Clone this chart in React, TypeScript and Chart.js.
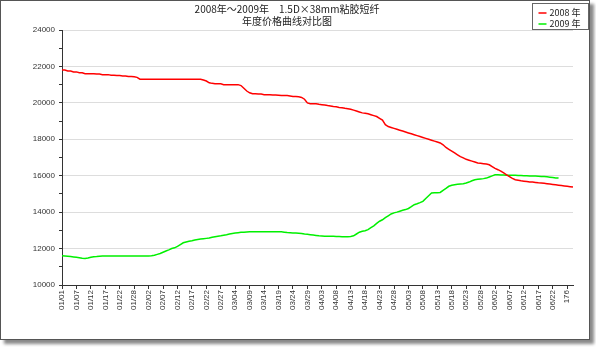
import React, { useEffect, useRef } from "react";
import { Chart, registerables } from "chart.js";

Chart.register(...registerables);

const TITLE_LINES = ["2008年～2009年　1.5D×38mm粘胶短纤", "年度价格曲线对比图"];
const SERIES_NAMES = ["2008 年", "2009 年"];
const SERIES_COLORS = ["#ff0000", "#00f000"];

const TICK_LABELS = [
  "01/01", "01/07", "01/12", "01/17", "01/22", "01/28", "02/02", "02/07", "02/12",
  "02/17", "02/22", "02/27", "03/04", "03/09", "03/14", "03/19", "03/24", "03/29",
  "04/03", "04/08", "04/13", "04/18", "04/23", "04/28", "05/03", "05/08", "05/13",
  "05/18", "05/23", "05/28", "06/02", "06/07", "06/12", "06/17", "06/22", "176",
];
const POINT_COUNT = 178;
const LABEL_EVERY = 5;

const SERIES_2008 = [
  21800, 21800, 21750, 21750, 21700, 21700, 21650, 21650, 21600, 21600,
  21600, 21600, 21580, 21580, 21550, 21550, 21550, 21520, 21520, 21500,
  21500, 21480, 21480, 21450, 21450, 21430, 21400, 21300, 21300, 21300,
  21300, 21300, 21300, 21300, 21300, 21300, 21300, 21300, 21300, 21300,
  21300, 21300, 21300, 21300, 21300, 21300, 21300, 21300, 21300, 21250,
  21200, 21100, 21070, 21050, 21050, 21050, 21000, 21000, 21000, 21000,
  21000, 21000, 20950, 20800, 20650, 20550, 20500, 20500, 20480, 20480,
  20450, 20450, 20450, 20430, 20430, 20420, 20400, 20400, 20400, 20380,
  20350, 20350, 20330, 20300, 20200, 20000, 19950, 19950, 19950, 19920,
  19900, 19880, 19850, 19830, 19800, 19780, 19750, 19730, 19700, 19680,
  19650, 19600, 19550, 19500, 19450, 19430, 19400, 19350, 19300, 19250,
  19150, 19050, 18800, 18700, 18650, 18600, 18550, 18500, 18450, 18400,
  18350, 18300, 18250, 18200, 18150, 18100, 18050, 18000, 17950, 17900,
  17850, 17800, 17700, 17550, 17450, 17350, 17250, 17150, 17050, 16980,
  16900, 16850, 16800, 16750, 16700, 16680, 16660, 16640, 16600, 16500,
  16400, 16330, 16250, 16150, 16050, 15950, 15850, 15780, 15750, 15720,
  15700, 15680, 15660, 15650, 15630, 15610, 15600, 15580, 15560, 15540,
  15520, 15500, 15480, 15460, 15440, 15420, 15400, 15380,
];

const SERIES_2009 = [
  11600, 11590, 11580, 11560, 11540, 11520, 11500, 11470, 11460, 11480,
  11520, 11550, 11560, 11580, 11590, 11590, 11590, 11590, 11590, 11590,
  11590, 11590, 11590, 11590, 11590, 11590, 11590, 11590, 11590, 11590,
  11590, 11600, 11630, 11680, 11730, 11800, 11870, 11930, 12000, 12040,
  12120, 12220, 12320, 12360, 12400, 12430, 12470, 12500, 12520, 12540,
  12560, 12580, 12620, 12650, 12680, 12700, 12730, 12760, 12800, 12830,
  12850, 12870, 12890, 12900, 12910, 12920, 12920, 12920, 12920, 12920,
  12920, 12920, 12920, 12920, 12920, 12920, 12920, 12900, 12880, 12870,
  12860, 12850, 12840, 12830, 12800, 12780, 12760, 12740, 12720, 12700,
  12690, 12680, 12680, 12680, 12670, 12660, 12660, 12650, 12650, 12650,
  12660, 12700, 12800, 12900, 12950, 12980, 13040, 13150, 13250, 13380,
  13500, 13580, 13700, 13800, 13900, 13960, 14000, 14050, 14100, 14140,
  14200, 14300, 14410, 14460, 14520, 14590, 14750, 14900, 15050, 15060,
  15070, 15080, 15200, 15300, 15420, 15480, 15510, 15530, 15550, 15560,
  15600, 15650, 15720, 15780, 15800, 15820, 15840, 15870, 15930, 15990,
  16050, 16050, 16040, 16040, 16030, 16030, 16020, 16020, 16010, 16010,
  16000, 16000, 15990, 15990, 15980, 15970, 15960, 15960, 15940, 15920,
  15900, 15880, 15870,
];

const Y_MIN = 10000;
const Y_MAX = 24000;
const Y_STEP = 1000;
const Y_LABEL_STEP = 2000;

const CATEGORIES = Array.from({ length: POINT_COUNT }, (_, i) =>
  i % LABEL_EVERY === 0 && i / LABEL_EVERY < TICK_LABELS.length ? TICK_LABELS[i / LABEL_EVERY] : ""
);

const FONT = "'Liberation Sans', Arial, sans-serif";
const CJK = "'Noto Sans CJK SC', 'Liberation Sans', sans-serif";

const legendBoxPlugin = {
  id: "legendBox",
  afterDraw(chart: any) {
    const ctx = chart.ctx as CanvasRenderingContext2D;
    const w = 56;
    const h = 26;
    const x = chart.width - w - 0.5;
    const y = 2.5;
    ctx.save();
    ctx.fillStyle = "#ffffff";
    ctx.fillRect(x, y, w, h);
    ctx.strokeStyle = "#666666";
    ctx.lineWidth = 1;
    ctx.strokeRect(x, y, w, h);
    chart.data.datasets.forEach((ds: any, i: number) => {
      const cy = y + 9.5 + i * 11;
      ctx.strokeStyle = ds.borderColor;
      ctx.lineWidth = 1.5;
      ctx.beginPath();
      ctx.moveTo(x + 6, cy);
      ctx.lineTo(x + 14, cy);
      ctx.stroke();
      ctx.fillStyle = "#222222";
      ctx.font = `9px ${CJK}`;
      ctx.textBaseline = "middle";
      ctx.textAlign = "left";
      ctx.fillText(ds.label, x + 17, cy);
    });
    ctx.restore();
  },
};

export default function App() {
  const ref = useRef<HTMLCanvasElement | null>(null);

  useEffect(() => {
    if (!ref.current) return;
    const chart = new Chart(ref.current, {
      type: "line",
      data: {
        labels: CATEGORIES,
        datasets: [
          {
            label: SERIES_NAMES[0],
            data: SERIES_2008,
            borderColor: SERIES_COLORS[0],
            backgroundColor: SERIES_COLORS[0],
            borderWidth: 1.5,
            pointRadius: 0,
            tension: 0,
            fill: false,
          },
          {
            label: SERIES_NAMES[1],
            data: SERIES_2009,
            borderColor: SERIES_COLORS[1],
            backgroundColor: SERIES_COLORS[1],
            borderWidth: 1.5,
            pointRadius: 0,
            tension: 0,
            fill: false,
          },
        ],
      },
      options: {
        animation: false,
        responsive: false,
        maintainAspectRatio: false,
        layout: { padding: { left: 0, right: 16, top: 0, bottom: 0 } },
        plugins: {
          legend: { display: false },
          tooltip: { enabled: false },
          title: {
            display: true,
            text: TITLE_LINES,
            color: "#222222",
            font: { family: CJK, size: 10, weight: "normal", lineHeight: 1.2 },
            padding: { top: 2, bottom: 3 },
          },
        },
        scales: {
          x: {
            type: "category",
            afterBuildTicks: (axis: any) => {
              axis.ticks = axis.ticks.filter(
                (t: any) => t.value % LABEL_EVERY === 0 && t.value / LABEL_EVERY < TICK_LABELS.length
              );
            },
            afterFit: (s: any) => {
              s.height = 54;
            },
            ticks: {
              autoSkip: false,
              minRotation: 90,
              maxRotation: 90,
              padding: 1,
              color: "#333333",
              font: { family: FONT, size: 8 },
              callback: (v: any) => CATEGORIES[v as number],
            },
            grid: { drawOnChartArea: false, tickLength: 4, color: "#333333" },
            border: { color: "#333333" },
          },
          y: {
            min: Y_MIN,
            max: Y_MAX,
            afterFit: (s: any) => {
              s.width = 61;
            },
            ticks: {
              stepSize: Y_STEP,
              padding: 4,
              color: "#333333",
              font: { family: FONT, size: 8 },
              callback: (v: any) => (Number(v) % Y_LABEL_STEP === 0 ? String(v) : ""),
            },
            grid: {
              color: (c: any) =>
                c.tick && c.tick.value % Y_LABEL_STEP === 0 ? "#dddddd" : "rgba(0,0,0,0)",
              tickColor: "#333333",
              tickLength: 3,
            },
            border: { color: "#333333" },
          },
        },
      },
      plugins: [legendBoxPlugin],
    });
    return () => chart.destroy();
  }, []);

  return (
    <div style={{ position: "absolute", left: 0, top: 0, width: 596, height: 347, background: "#ffffff" }}>
      <div
        style={{
          position: "absolute",
          left: 0,
          top: 0,
          width: 590,
          height: 340,
          boxSizing: "border-box",
          border: "1px solid #555555",
          background: "#ffffff",
          boxShadow: "4px 4px 3px #8a8a8a",
        }}
      >
        <canvas ref={ref} width={588} height={338} style={{ display: "block", width: 588, height: 338 }} />
      </div>
    </div>
  );
}
